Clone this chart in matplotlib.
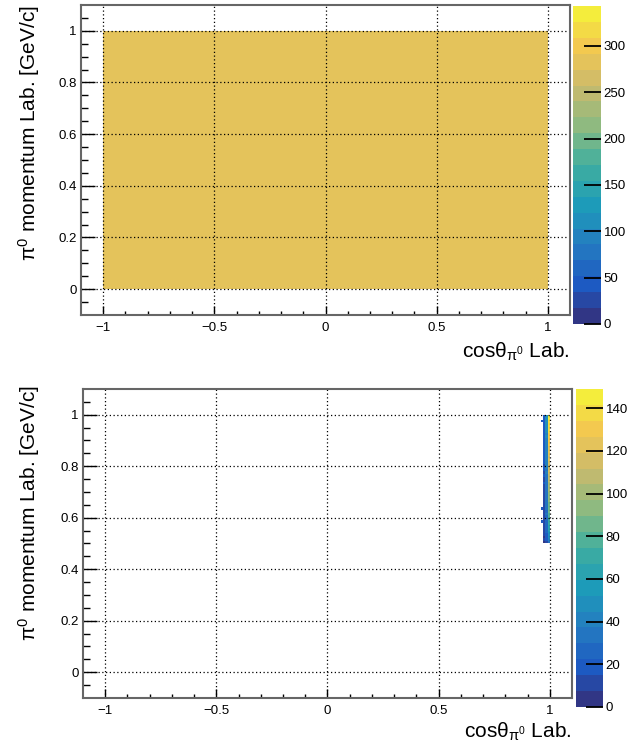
import numpy as np
import matplotlib
matplotlib.use('Agg')
import matplotlib.pyplot as plt
from matplotlib.colors import ListedColormap, BoundaryNorm, LinearSegmentedColormap

plt.rcParams['font.family'] = ['Liberation Sans', 'DejaVu Sans']
plt.rcParams['mathtext.fontset'] = 'custom'
plt.rcParams['mathtext.rm'] = 'Liberation Sans'
plt.rcParams['mathtext.it'] = 'Liberation Sans:italic'

# binning: cos(theta) 200 bins in [-1,1], momentum 100 bins in [0,1]
nx, ny = 200, 100
x_edges = np.linspace(-1, 1, nx + 1)
y_edges = np.linspace(0, 1, ny + 1)

# top: flat generated distribution, ~280 entries per bin
top_level = 280
top_zmax = 343

# bottom: only cos(theta) > 0.97, p from 0.50 to 1.00 (rows 0.50 ... 0.99)
col_097 = [6, 8, 7, 9, 8, 10, 9, 11, 10, 12, 11, 10, 12, 13, 11, 12, 13, 12, 14, 13,
           12, 14, 13, 15, 14, 13, 15, 14, 16, 15, 14, 16, 15, 17, 16, 15, 17, 16, 18, 17,
           16, 18, 17, 19, 18, 17, 19, 18, 20, 19]
col_098 = [14, 18, 20, 22, 24, 23, 26, 25, 28, 27, 29, 30, 28, 31, 30, 32, 31, 33, 32, 34,
           33, 35, 34, 36, 35, 37, 36, 38, 37, 39, 38, 40, 39, 41, 40, 42, 41, 43, 42, 44,
           43, 45, 44, 46, 45, 47, 46, 48, 47, 50]
col_099 = [30, 38, 45, 52, 58, 62, 66, 70, 74, 72, 78, 80, 84, 82, 88, 86, 90, 92, 95, 94,
           98, 100, 102, 104, 106, 108, 110, 112, 114, 113, 116, 118, 120, 119, 122, 124, 126, 125, 128, 130,
           131, 133, 132, 135, 136, 138, 139, 141, 143, 146]
# a few stray bins at cos(theta) = 0.96
stray_p = [0.97, 0.63, 0.58]
stray_val = [18, 15, 16]
bot_zmax = 149

# ROOT kBird palette
bird_r = [0.2082, 0.0592, 0.0780, 0.0232, 0.1802, 0.5301, 0.8186, 0.9956, 0.9764]
bird_g = [0.1664, 0.3599, 0.5041, 0.6419, 0.7178, 0.7492, 0.7328, 0.7862, 0.9832]
bird_b = [0.5293, 0.8684, 0.8385, 0.7914, 0.6425, 0.4662, 0.3499, 0.1968, 0.0539]
stops = np.linspace(0, 1, 9)
bird = LinearSegmentedColormap.from_list(
    'bird', list(zip(stops, zip(bird_r, bird_g, bird_b))))
ncont = 20
cols = bird((np.arange(ncont) + 0.5) / ncont)[:, :3]
lum = cols @ np.array([0.299, 0.587, 0.114])
cols = cols * 0.8 + 0.2 * lum[:, None]  # screenshot looks a bit washed out
cmap = ListedColormap(cols)

H_top = np.full((ny, nx), float(top_level))

H_bot = np.full((ny, nx), np.nan)
for i in range(50):
    H_bot[50 + i, 197] = col_097[i]
    H_bot[50 + i, 198] = col_098[i]
    H_bot[50 + i, 199] = col_099[i]
for p, v in zip(stray_p, stray_val):
    H_bot[int(round(p * 100)), 196] = v

fig = plt.figure(figsize=(6.34, 7.51), dpi=100)

panels = [
    (H_top, top_zmax, [0.1278, 0.5806, 0.7713, 0.4128], [0.9038, 0.5686, 0.0442, 0.4234],
     np.arange(0, 301, 50), 0.5234, 0.9935, 0.899),
    (H_bot, bot_zmax, [0.1309, 0.0706, 0.7713, 0.4115], [0.9085, 0.0586, 0.0426, 0.4234],
     np.arange(0, 141, 20), 0.0173, 0.4874, 0.902),
]

for H, zmax, rect, crect, cticks, xt_y, yt_y, xt_x in panels:
    levels = np.linspace(0, zmax, ncont + 1)
    norm = BoundaryNorm(levels, ncont)
    ax = fig.add_axes(rect)
    ax.pcolormesh(x_edges, y_edges, np.ma.masked_invalid(H), cmap=cmap, norm=norm)
    ax.set_xlim(-1.1, 1.1)
    ax.set_ylim(-0.1, 1.1)
    ax.set_xticks([-1, -0.5, 0, 0.5, 1])
    ax.set_xticklabels(['\u22121', '\u22120.5', '0', '0.5', '1'])
    ax.set_xticks(np.arange(-1.0, 1.01, 0.1), minor=True)
    ax.set_yticks([0, 0.2, 0.4, 0.6, 0.8, 1])
    ax.set_yticklabels(['0', '0.2', '0.4', '0.6', '0.8', '1'])
    ax.set_yticks(np.arange(-0.05, 1.06, 0.05), minor=True)
    ax.tick_params(axis='x', which='major', direction='in', length=6.5, width=1.0,
                   top=False, labelsize=9.5, pad=5)
    ax.tick_params(axis='x', which='minor', direction='in', length=3.2, width=1.0, top=False)
    ax.tick_params(axis='y', which='major', direction='in', length=10, width=1.0,
                   right=False, labelsize=9.5, pad=3)
    ax.tick_params(axis='y', which='minor', direction='in', length=5, width=1.0, right=False)
    ax.grid(True, which='major', color='black', linestyle=(0, (1, 2)), linewidth=0.9)
    for s in ax.spines.values():
        s.set_color('#666666')
        s.set_linewidth(1.5)

    cax = fig.add_axes(crect)
    cax.pcolormesh([0, 1], levels, (levels[:-1] + levels[1:]).reshape(-1, 1) / 2,
                   cmap=cmap, norm=norm)
    cax.set_xlim(0, 1)
    cax.set_ylim(0, zmax)
    cax.set_xticks([])
    cax.yaxis.tick_right()
    cax.set_yticks(cticks)
    cax.tick_params(axis='y', direction='in', length=12, width=1.3, labelsize=9.5, pad=2)
    for s in cax.spines.values():
        s.set_visible(False)

    fig.text(xt_x, xt_y, r'cos$\mathrm{\theta}_{\mathrm{\pi}^{0}}$ Lab.', ha='right',
             va='baseline', fontsize=15)
    fig.text(0.046, yt_y, r'$\mathrm{\pi}^{0}$ momentum Lab. [GeV/c]', rotation=90,
             ha='center', va='top', fontsize=15)

fig.savefig('out.png', dpi=100)
